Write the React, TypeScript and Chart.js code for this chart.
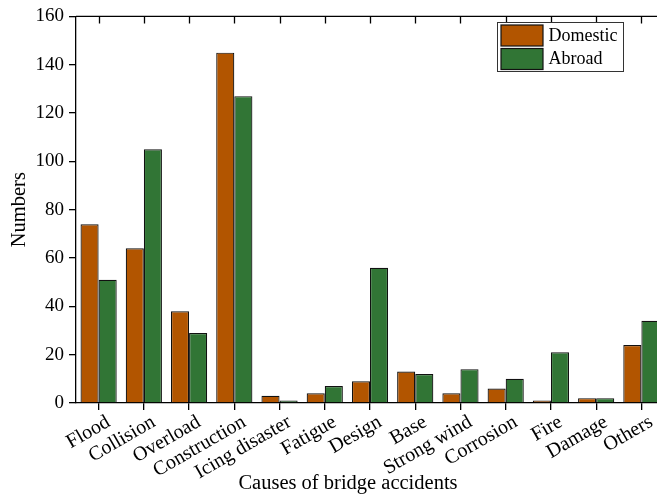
import React, { useEffect, useRef } from "react";
import { Chart, registerables } from "chart.js";

Chart.register(...registerables);

const categories = [
  "Flood",
  "Collision",
  "Overload",
  "Construction",
  "Icing disaster",
  "Fatigue",
  "Design",
  "Base",
  "Strong wind",
  "Corrosion",
  "Fire",
  "Damage",
  "Others",
];
const domestic = [74, 64, 38, 145, 3, 4, 9, 13, 4, 6, 1, 2, 24];
const abroad = [51, 105, 29, 127, 1, 7, 56, 12, 14, 10, 21, 2, 34];
const seriesNames = ["Domestic", "Abroad"];
const yMin = 0;
const yMax = 160;
const yStep = 20;
const xTitle = "Causes of bridge accidents";
const yTitle = "Numbers";

const FONT = "'Liberation Serif', 'Times New Roman', serif";
const ORANGE = "#b25500";
const GREEN = "#317535";

const framePlugin = {
  id: "frame",
  afterDraw(chart: any) {
    const { ctx, chartArea: a, scales } = chart;
    const x = scales.x;
    ctx.save();
    ctx.strokeStyle = "#000";
    ctx.lineWidth = 1.3;
    // top axis line + inward ticks
    ctx.beginPath();
    ctx.moveTo(a.left, a.top);
    ctx.lineTo(a.right, a.top);
    for (let i = 0; i < categories.length; i++) {
      const px = Math.round(x.getPixelForValue(i)) + 0.5;
      ctx.moveTo(px, a.top);
      ctx.lineTo(px, a.top + 7);
    }
    ctx.stroke();

    // rotated category labels
    ctx.fillStyle = "#000";
    ctx.font = `20px ${FONT}`;
    ctx.textAlign = "right";
    ctx.textBaseline = "top";
    for (let i = 0; i < categories.length; i++) {
      const px = x.getPixelForValue(i);
      ctx.save();
      ctx.translate(px + 5, a.bottom + 9);
      ctx.rotate(-Math.PI / 6);
      ctx.fillText(categories[i], 0, 0);
      ctx.restore();
    }

    // axis titles
    ctx.font = `20.5px ${FONT}`;
    ctx.textAlign = "center";
    ctx.textBaseline = "middle";
    ctx.fillText(xTitle, 348, 484);
    ctx.save();
    ctx.translate(20, (a.top + a.bottom) / 2);
    ctx.rotate(-Math.PI / 2);
    ctx.fillText(yTitle, 0, 0);
    ctx.restore();

    // legend
    const lx = 497.5;
    const ly = 22.5;
    const lw = 126;
    const lh = 49;
    ctx.fillStyle = "#fff";
    ctx.fillRect(lx, ly, lw, lh);
    ctx.lineWidth = 1;
    ctx.strokeStyle = "#333";
    ctx.strokeRect(lx, ly, lw, lh);
    const colors = [ORANGE, GREEN];
    ctx.font = `18px ${FONT}`;
    ctx.textAlign = "left";
    ctx.textBaseline = "middle";
    for (let i = 0; i < seriesNames.length; i++) {
      const sy = ly + 2.5 + i * 23.5;
      ctx.fillStyle = colors[i];
      ctx.fillRect(lx + 3.5, sy, 42, 21);
      ctx.strokeStyle = "#111";
      ctx.lineWidth = 1.2;
      ctx.strokeRect(lx + 3.5, sy, 42, 21);
      ctx.fillStyle = "#000";
      ctx.fillText(seriesNames[i], lx + 51, sy + 11);
    }
    ctx.restore();
  },
};

export default function App() {
  const ref = useRef<HTMLCanvasElement | null>(null);
  useEffect(() => {
    if (!ref.current) return;
    const chart = new Chart(ref.current, {
      type: "bar",
      data: {
        labels: categories,
        datasets: [
          {
            label: seriesNames[0],
            data: domestic,
            backgroundColor: ORANGE,
            borderColor: "#111",
            borderWidth: 1.2,
            categoryPercentage: 0.8,
            barPercentage: 1.0,
          },
          {
            label: seriesNames[1],
            data: abroad,
            backgroundColor: GREEN,
            borderColor: "#111",
            borderWidth: 1.2,
            categoryPercentage: 0.8,
            barPercentage: 1.0,
          },
        ],
      },
      options: {
        animation: false,
        responsive: false,
        devicePixelRatio: 1,
        layout: { padding: { left: 0, top: 16, right: 36, bottom: 0 } },
        plugins: {
          legend: { display: false },
          tooltip: { enabled: false },
          title: { display: false },
        },
        scales: {
          x: {
            type: "category",
            position: "bottom",
            z: 1,
            offset: true,
            grid: {
              display: true,
              offset: false,
              drawOnChartArea: false,
              drawTicks: true,
              tickLength: 7,
              color: "#000",
              lineWidth: 1.3,
            },
            border: { display: true, color: "#000", width: 1.3 },
            ticks: {
              display: false,
              autoSkip: false,
            },
            afterFit: (s: any) => {
              s.height = 92;
            },
          },
          y: {
            type: "linear",
            position: "left",
            min: yMin,
            max: yMax,
            z: 1,
            grid: {
              display: true,
              drawOnChartArea: false,
              drawTicks: true,
              tickLength: 7,
              color: "#000",
              lineWidth: 1.3,
            },
            border: { display: true, color: "#000", width: 1.3 },
            ticks: {
              stepSize: yStep,
              color: "#000",
              font: { family: FONT, size: 19 },
              padding: 5,
            },
            afterFit: (s: any) => {
              s.width = 76;
            },
          },
        },
      },
      plugins: [framePlugin],
    });
    return () => chart.destroy();
  }, []);

  return (
    <div
      style={{
        position: "fixed",
        left: 0,
        top: 0,
        width: 657,
        height: 495,
        overflow: "hidden",
        background: "#fff",
      }}
    >
      <canvas ref={ref} width={700} height={495} style={{ display: "block" }} />
    </div>
  );
}
